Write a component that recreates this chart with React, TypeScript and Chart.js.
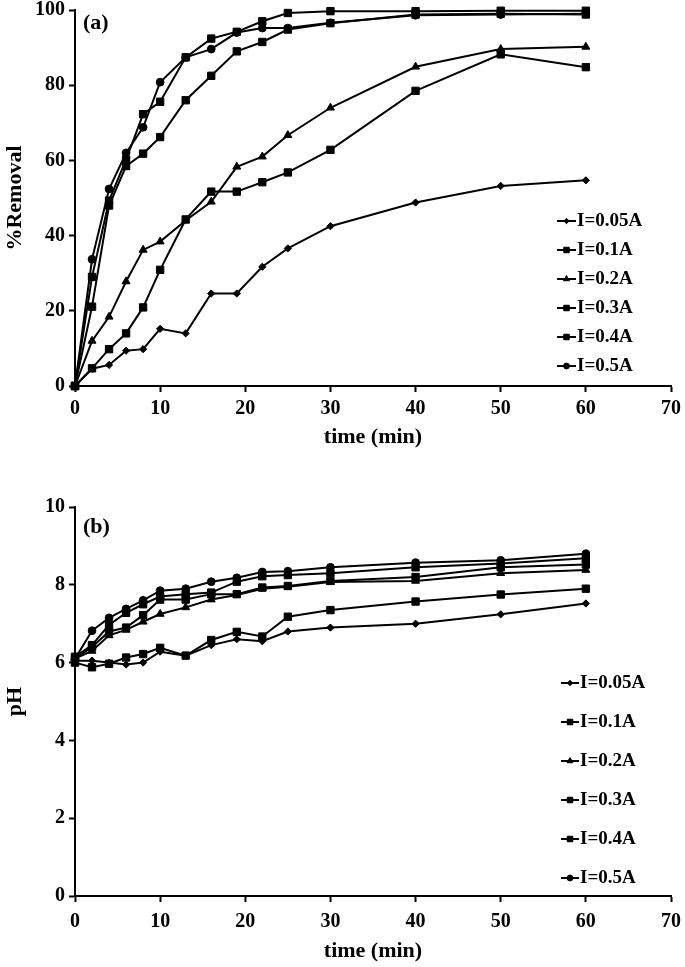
import React, { useEffect, useRef } from "react";
import { Chart, registerables } from "chart.js";
import { drawPoint } from "chart.js/helpers";

Chart.register(...registerables);

const FONT = "'Liberation Serif', 'Times New Roman', serif";

const TIME = [0, 2, 4, 6, 8, 10, 13, 16, 19, 22, 25, 30, 40, 50, 60];
const SERIES_LABELS = ["I=0.05A", "I=0.1A", "I=0.2A", "I=0.3A", "I=0.4A", "I=0.5A"];
const SERIES_MARKERS = ["rectRot", "rect", "triangle", "rect", "rect", "circle"];

// (a) %Removal
const REMOVAL_005 = [0, 4.6, 5.6, 9.4, 9.8, 15.2, 14.0, 24.6, 24.6, 31.7, 36.6, 42.5, 48.8, 53.2, 54.7];
const REMOVAL_01 = [0, 4.7, 9.8, 14.0, 20.9, 30.9, 44.3, 51.7, 51.7, 54.2, 56.8, 62.8, 78.5, 88.2, 84.8];
const REMOVAL_02 = [0, 12.0, 18.4, 27.8, 36.2, 38.4, 44.0, 49.0, 58.3, 61.0, 66.7, 74.0, 84.9, 89.6, 90.2];
const REMOVAL_03 = [0, 21.1, 48.0, 58.5, 61.8, 66.2, 76.0, 82.5, 89.0, 91.5, 94.8, 96.5, 98.8, 99.0, 98.8];
const REMOVAL_04 = [0, 29.0, 49.3, 60.2, 72.3, 75.6, 87.4, 92.4, 94.2, 97.0, 99.2, 99.7, 99.7, 99.8, 99.8];
const REMOVAL_05 = [0, 33.7, 52.4, 62.0, 68.8, 80.8, 87.4, 89.6, 94.0, 95.2, 95.2, 96.6, 98.6, 98.8, 99.0];

// (b) pH
const PH_005 = [6.05, 6.05, 6.0, 5.95, 6.0, 6.28, 6.18, 6.45, 6.6, 6.55, 6.8, 6.9, 7.0, 7.24, 7.52];
const PH_01 = [6.0, 5.88, 5.97, 6.13, 6.22, 6.38, 6.18, 6.58, 6.79, 6.67, 7.18, 7.35, 7.57, 7.75, 7.9];
const PH_02 = [6.1, 6.3, 6.7, 6.84, 7.05, 7.25, 7.42, 7.62, 7.74, 7.9, 7.95, 8.07, 8.1, 8.3, 8.38];
const PH_03 = [6.1, 6.4, 6.8, 6.9, 7.22, 7.62, 7.62, 7.76, 7.76, 7.93, 7.97, 8.1, 8.2, 8.45, 8.52];
const PH_04 = [6.15, 6.45, 6.97, 7.28, 7.5, 7.7, 7.76, 7.8, 8.08, 8.22, 8.25, 8.3, 8.45, 8.55, 8.68];
const PH_05 = [6.1, 6.82, 7.15, 7.38, 7.6, 7.85, 7.9, 8.08, 8.18, 8.33, 8.35, 8.45, 8.57, 8.63, 8.8];

const REMOVAL_SERIES = [REMOVAL_005, REMOVAL_01, REMOVAL_02, REMOVAL_03, REMOVAL_04, REMOVAL_05];
const PH_SERIES = [PH_005, PH_01, PH_02, PH_03, PH_04, PH_05];

const X_MIN = 0, X_MAX = 70, X_STEP = 10;
const REMOVAL_MIN = 0, REMOVAL_MAX = 100, REMOVAL_STEP = 20;
const PH_MIN = 0, PH_MAX = 10, PH_STEP = 2;

const MARKER_RADIUS: Record<string, number> = { rectRot: 3.6, rect: 5.2, triangle: 4.6, circle: 3.9 };

const decorPlugin = {
  id: "decor",
  afterDatasetsDraw(chart: any, _args: any, opts: any) {
    const ctx = chart.ctx as CanvasRenderingContext2D;
    const ca = chart.chartArea;
    ctx.save();
    ctx.fillStyle = "#000";
    ctx.strokeStyle = "#000";
    ctx.textBaseline = "middle";
    ctx.textAlign = "left";
    ctx.font = `bold 22px ${FONT}`;
    ctx.fillText(opts.panel, ca.left + opts.panelDx, ca.top + opts.panelDy);
    ctx.font = `bold 19px ${FONT}`;
    chart.data.datasets.forEach((ds: any, i: number) => {
      const y = opts.legendY + i * opts.legendGap;
      ctx.lineWidth = 2;
      ctx.beginPath();
      ctx.moveTo(opts.legendX, y);
      ctx.lineTo(opts.legendX + opts.lineLen, y);
      ctx.stroke();
      ctx.lineWidth = 1;
      drawPoint(
        ctx,
        { pointStyle: ds.pointStyle, radius: (MARKER_RADIUS[ds.pointStyle] || 4) * 0.75, borderWidth: 1, rotation: 0 } as any,
        opts.legendX + opts.lineLen / 2,
        y
      );
      ctx.fillStyle = "#000";
      ctx.fillText(ds.label, opts.legendX + opts.lineLen + 1, y);
    });
    ctx.restore();
  },
};

function makeConfig(
  series: number[][],
  yMin: number,
  yMax: number,
  yStep: number,
  yTitle: string,
  layoutTop: number,
  xScaleHeight: number,
  xTickPad: number,
  xTitlePadBottom: number,
  decor: any
): any {
  const datasets = series.map((vals, i) => ({
    label: SERIES_LABELS[i],
    data: TIME.map((t, j) => ({ x: t, y: vals[j] })),
    borderColor: "#000",
    backgroundColor: "#000",
    borderWidth: 2,
    pointStyle: SERIES_MARKERS[i],
    pointRadius: MARKER_RADIUS[SERIES_MARKERS[i]],
    pointBackgroundColor: "#000",
    pointBorderColor: "#000",
    pointBorderWidth: 1,
    tension: 0,
    clip: false,
  }));
  const tickFont = { family: FONT, size: 20, weight: "bold" };
  const titleFont = { family: FONT, size: 22, weight: "bold" };
  return {
    type: "line",
    data: { datasets },
    options: {
      animation: false,
      responsive: false,
      devicePixelRatio: 1,
      events: [],
      layout: { autoPadding: false, padding: { top: layoutTop, right: 14, left: 0, bottom: 0 } },
      plugins: {
        legend: { display: false },
        tooltip: { enabled: false },
        decor,
      },
      scales: {
        x: {
          type: "linear",
          min: X_MIN,
          max: X_MAX,
          ticks: { stepSize: X_STEP, color: "#000", font: tickFont, padding: xTickPad, maxRotation: 0 },
          grid: { drawOnChartArea: false, drawTicks: true, tickLength: 6, tickWidth: 2, color: "#000" },
          border: { display: true, color: "#000", width: 2 },
          title: { display: true, text: "time (min)", color: "#000", font: titleFont, padding: { top: 0, bottom: xTitlePadBottom } },
          afterFit(scale: any) {
            scale.height = xScaleHeight;
            scale.paddingLeft = 0;
            scale.paddingRight = 0;
          },
        },
        y: {
          type: "linear",
          min: yMin,
          max: yMax,
          ticks: { stepSize: yStep, color: "#000", font: tickFont, padding: 4 },
          grid: { drawOnChartArea: false, drawTicks: true, tickLength: 6, tickWidth: 2, color: "#000" },
          border: { display: true, color: "#000", width: 2 },
          title: { display: true, text: yTitle, color: "#000", font: titleFont, padding: { top: 2, bottom: 0 } },
          afterFit(scale: any) {
            scale.width = 75;
            scale.paddingTop = 0;
            scale.paddingBottom = 0;
          },
        },
      },
    },
    plugins: [decorPlugin],
  };
}

function ChartCanvas({ config, width, height, top }: { config: any; width: number; height: number; top: number }) {
  const ref = useRef<HTMLCanvasElement | null>(null);
  useEffect(() => {
    if (!ref.current) return;
    const chart = new Chart(ref.current, config);
    return () => chart.destroy();
  }, [config]);
  return (
    <canvas
      ref={ref}
      width={width}
      height={height}
      style={{ position: "absolute", left: 0, top, width, height }}
    />
  );
}

const CONFIG_A = makeConfig(
  REMOVAL_SERIES,
  REMOVAL_MIN,
  REMOVAL_MAX,
  REMOVAL_STEP,
  "%Removal",
  10,
  84,
  5,
  19,
  { panel: "(a)", panelDx: 8, panelDy: 13, legendX: 557, legendY: 221, legendGap: 29, lineLen: 19 }
);

const CONFIG_B = makeConfig(
  PH_SERIES,
  PH_MIN,
  PH_MAX,
  PH_STEP,
  "pH",
  37,
  71,
  8,
  2,
  { panel: "(b)", panelDx: 8, panelDy: 20, legendX: 561, legendY: 213, legendGap: 39, lineLen: 18 }
);

export default function App() {
  return (
    <div style={{ position: "absolute", left: 0, top: 0, width: 685, height: 967, background: "#fff" }}>
      <ChartCanvas config={CONFIG_A} width={685} height={470} top={0} />
      <ChartCanvas config={CONFIG_B} width={685} height={497} top={470} />
    </div>
  );
}
